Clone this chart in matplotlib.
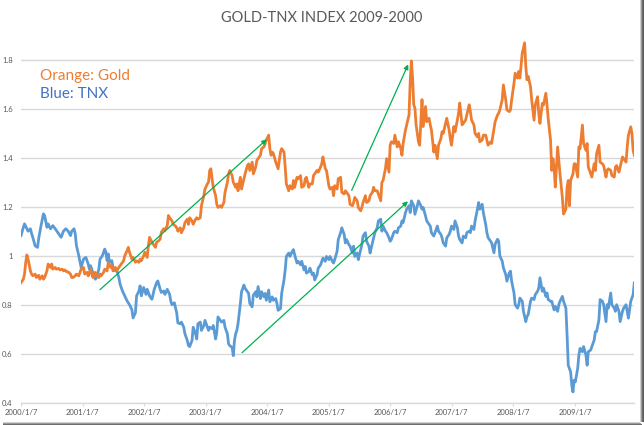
import numpy as np
import pandas as pd
import matplotlib
matplotlib.use("Agg")
import matplotlib.pyplot as plt
from matplotlib.patches import Rectangle

plt.rcParams['font.family'] = ['Lato', 'DejaVu Sans']

# ---------------- data (weeks after 2000/1/7, index value) ----------------
START = pd.Timestamp('2000-01-07')

gold_weeks = [
    0, 2, 3, 4, 5, 6, 8, 9, 10, 12, 13, 15, 16, 18, 19, 20, 22, 23, 25, 26, 27, 29, 30, 32, 33, 35, 36, 37, 39, 40,
    42, 43, 44, 46, 47, 49, 50, 51, 53, 54, 56, 57, 59, 60, 61, 63, 64, 66, 67, 68, 70, 71, 73, 74, 76, 77, 78, 80,
    81, 83, 84, 85, 87, 88, 90, 91, 92, 94, 95, 97, 98, 100, 101, 102, 104, 105, 107, 108, 109, 111, 112, 114, 115,
    117, 118, 119, 121, 122, 124, 125,
    126, 128, 129, 131, 132, 133,
    135, 136, 138, 139, 141, 142, 143, 145, 146, 148, 149, 150, 152, 153, 155, 156, 158, 159, 160, 161, 162,
    163, 165, 166, 167, 169, 170, 172, 173, 175, 176, 177, 179, 180, 182, 183, 184, 186, 187, 189, 190, 192, 193,
    194, 196, 197, 199, 200, 201, 203, 204, 206, 207, 208, 210, 211, 212, 213,
    214, 216, 217, 218, 220, 221, 223, 224, 225, 227, 228, 230, 231, 232, 234, 235, 237, 238, 240, 241, 242, 244,
    245, 247, 248, 249, 251, 252, 254, 255, 256, 258, 259, 261, 262, 264, 265,
    266, 268, 269, 271, 272, 274, 275, 276, 278, 279, 281, 282, 283, 285, 286, 288, 289, 290, 292, 293, 295, 296,
    298, 299, 300, 302, 303, 305, 306, 307, 309, 310, 312, 313, 314, 316, 317, 319, 320, 322, 323, 324, 326, 327,
    329, 330, 331, 332, 333, 334, 335, 337, 338, 339,
    340, 341, 343, 344, 346, 347, 348, 350, 351, 353, 354, 356, 357, 358, 360, 361, 363, 364, 365, 367, 368, 370,
    371, 372, 374, 375, 377, 378, 380, 381, 382, 384, 385, 387, 388, 389, 391, 392, 394,
    395, 396, 398, 399, 401, 402, 404, 405, 406, 408, 409, 411, 412, 414, 415, 416, 418, 419, 421, 422, 423, 425,
    426, 427, 428, 429, 430, 432, 433, 435, 436, 438, 439, 440, 442, 443, 445, 446, 447, 449, 450, 451, 452,
    453, 455, 456, 457, 459, 460, 462, 463, 464, 465, 466, 468,
    469, 470, 472, 473, 474, 476, 477, 479, 480, 481, 483, 484, 486, 487, 488, 490, 491, 493, 494, 496, 497, 498,
    500, 501, 503, 504, 505, 507, 508, 510, 511, 513, 514, 515, 517, 518, 519, 520,
]
gold_vals = [
    0.89, 0.904, 0.925, 0.973, 1.003, 0.986, 0.938, 0.925, 0.918, 0.925, 0.911, 0.92, 0.904, 0.918, 0.904, 0.911,
    0.938, 0.966, 0.952, 0.966, 0.945, 0.952, 0.945, 0.948, 0.942, 0.945, 0.938, 0.942, 0.934, 0.934, 0.925, 0.911,
    0.911, 0.918, 0.925, 0.918, 0.932, 0.945, 0.952, 0.925, 0.932, 0.918, 0.945, 0.925, 0.911, 0.932, 0.918, 0.911,
    0.925, 0.918, 0.932, 0.945, 0.938, 0.973, 0.952, 0.959, 0.938, 0.952, 0.938, 0.952, 0.959, 0.966, 0.979, 1.0,
    1.021, 1.034, 1.014, 0.986, 0.993, 0.973, 0.979, 0.973, 0.986, 0.979, 1.0, 1.014, 0.993, 1.041, 1.075, 1.055,
    1.048, 1.034, 1.055, 1.062, 1.068, 1.096, 1.11, 1.103, 1.123, 1.164,
    1.155, 1.142, 1.128, 1.121, 1.114, 1.10,
    1.114, 1.094, 1.114, 1.135, 1.149, 1.128, 1.155, 1.142, 1.128, 1.149, 1.155, 1.149, 1.155, 1.204, 1.245, 1.272,
    1.293, 1.30, 1.348, 1.355, 1.314,
    1.279, 1.245, 1.21, 1.197, 1.204, 1.197, 1.217, 1.259, 1.30, 1.334, 1.348, 1.327, 1.30, 1.279, 1.293, 1.265,
    1.32, 1.272, 1.314, 1.334, 1.368, 1.375, 1.348, 1.382, 1.334, 1.362, 1.389, 1.396, 1.41, 1.437, 1.444, 1.458,
    1.472, 1.492, 1.437, 1.41, 1.423,
    1.417, 1.382, 1.368, 1.355, 1.423, 1.437, 1.423, 1.362, 1.293, 1.265, 1.286, 1.272, 1.307, 1.279, 1.32, 1.314,
    1.327, 1.279, 1.286, 1.314, 1.32, 1.279, 1.293, 1.293, 1.327, 1.334, 1.348, 1.341, 1.362, 1.375, 1.403, 1.355,
    1.348, 1.286, 1.272, 1.279, 1.245,
    1.286, 1.272, 1.314, 1.32, 1.259, 1.252, 1.265, 1.259, 1.245, 1.21, 1.204, 1.217, 1.238, 1.224, 1.197, 1.183,
    1.197, 1.217, 1.245, 1.217, 1.224, 1.245, 1.259, 1.279, 1.265, 1.265, 1.252, 1.224, 1.30, 1.307, 1.355, 1.396,
    1.341, 1.451, 1.465, 1.458, 1.492, 1.444, 1.465, 1.437, 1.41, 1.458, 1.513, 1.534, 1.575, 1.712,
    1.795, 1.726, 1.616, 1.602, 1.534, 1.465, 1.451, 1.547,
    1.637, 1.527, 1.609, 1.547, 1.561, 1.534, 1.513, 1.423, 1.451, 1.396, 1.451, 1.478, 1.506, 1.499, 1.54, 1.561,
    1.513, 1.478, 1.451, 1.527, 1.506, 1.554, 1.582, 1.623, 1.534, 1.54, 1.554, 1.575, 1.616, 1.589, 1.554, 1.534,
    1.499, 1.485, 1.499, 1.465, 1.472, 1.492, 1.492,
    1.471, 1.451, 1.464, 1.458, 1.519, 1.547, 1.574, 1.581, 1.595, 1.636, 1.697, 1.636, 1.595, 1.588, 1.595, 1.636,
    1.704, 1.745, 1.725, 1.752, 1.725, 1.827, 1.848, 1.869, 1.773,
    1.718, 1.732, 1.690, 1.636, 1.553, 1.615, 1.649, 1.581, 1.540, 1.622, 1.615, 1.663, 1.615, 1.560, 1.471,
    1.348, 1.396, 1.362,
    1.280, 1.444, 1.389, 1.334, 1.238, 1.170, 1.190, 1.280, 1.307, 1.204, 1.307, 1.334,
    1.375, 1.375, 1.321, 1.444, 1.437, 1.533, 1.458, 1.430, 1.458, 1.362, 1.334, 1.321, 1.375, 1.348, 1.416, 1.451,
    1.382, 1.375, 1.368, 1.321, 1.348, 1.355, 1.348, 1.327, 1.321, 1.362, 1.368, 1.341, 1.362, 1.403, 1.396, 1.382,
    1.444, 1.492, 1.526, 1.499, 1.430, 1.410,
]

tnx_weeks = [
    0, 2, 3, 6, 8, 9, 10, 12, 14, 15, 17, 19, 20, 22, 23, 25, 27, 29, 32, 34, 36, 38, 40, 42, 43, 45, 46, 47, 49, 51,
    53, 55, 57, 58, 59, 61, 63, 64, 66, 67, 69, 71, 72, 73, 74, 75, 77, 78, 80, 81, 83, 84, 86, 88, 90, 92, 94, 95,
    97, 98, 100, 101, 102, 104, 106, 107, 109, 111, 113, 115, 116, 118, 119, 121, 122, 124, 126, 127, 128, 130, 132,
    133,
    135, 136, 138, 139, 141, 142, 143, 145, 146, 148, 149, 150, 152, 153, 155, 156, 158, 159, 160, 162,
    163, 165, 166, 167, 169, 170, 172, 173, 175, 176, 177, 179, 180, 181, 182,
    183, 184, 186, 187, 189, 190, 192, 193, 194, 196, 197, 199, 200, 201, 203, 204, 206, 207, 208, 210,
    211, 213, 214, 216, 217, 218, 220, 221, 223, 224, 225, 227, 228, 230, 231, 232, 234, 235, 237, 238,
    240, 241, 242, 244, 245, 247, 248, 249, 251, 252, 254, 255, 256, 258, 259, 261, 262, 264, 265,
    266, 268, 269, 271, 272, 274, 275, 276, 278, 279, 281, 282, 283, 285, 286, 288, 289, 290, 292, 293,
    295, 296, 298, 299, 300, 302, 303, 305, 306, 307, 309, 310, 312, 313, 314, 316, 317, 319, 320, 322,
    323, 324, 326, 327, 329, 330, 331, 333, 334, 336, 337, 339, 340, 341, 343, 344, 346, 347, 348, 350,
    351, 353, 354, 356, 357, 358, 360, 361, 363, 364, 365, 367, 368, 370, 371, 372, 374, 375, 377, 378,
    380, 381, 382, 384, 385, 387, 388, 389, 391, 392, 394,
    395, 396, 398, 399, 401, 402, 404, 405, 406, 408, 409, 411, 412, 414, 415, 416, 418, 419, 421, 422,
    423, 425, 426, 428, 429, 430, 432, 433, 435, 436, 438, 439, 440, 442, 443, 445, 446, 447, 449, 450,
    452, 453, 455, 456, 457, 459, 460, 462, 463, 464, 466, 467, 468, 469,
    470, 472, 473, 474, 476, 477, 479, 480, 481, 483, 484, 486, 487, 488, 490, 491, 493, 494, 496, 497,
    498, 500, 501, 503, 504, 505, 507, 508, 510, 511, 513, 514, 515, 517, 518, 519, 520,
]
tnx_vals = [
    1.082, 1.116, 1.13, 1.10, 1.11, 1.09, 1.075, 1.04, 1.034, 1.07, 1.123, 1.171, 1.164, 1.116, 1.13, 1.11, 1.123,
    1.11, 1.089, 1.075, 1.10, 1.11, 1.10, 1.082, 1.10, 1.11, 1.089, 1.041, 1.0, 0.952, 0.986, 0.993, 0.966, 0.945,
    0.959, 0.93, 0.904, 0.91, 0.945, 0.986, 1.0, 1.027, 1.014, 0.98, 1.007, 0.973, 0.98, 0.952, 0.938, 0.945, 0.91,
    0.884, 0.856, 0.836, 0.815, 0.80, 0.78, 0.746, 0.767, 0.836, 0.856, 0.877, 0.836, 0.87, 0.842, 0.863, 0.836,
    0.822, 0.863, 0.89, 0.897, 0.863, 0.85, 0.856, 0.842, 0.863, 0.842, 0.815, 0.80, 0.808, 0.767, 0.726,
    0.722, 0.729, 0.708, 0.681, 0.654, 0.633, 0.629, 0.654, 0.708, 0.681, 0.660, 0.722, 0.729, 0.695, 0.715, 0.736,
    0.708, 0.695, 0.708, 0.702,
    0.715, 0.660, 0.688, 0.75, 0.736, 0.729, 0.736, 0.708, 0.681, 0.640, 0.633, 0.626, 0.592, 0.654, 0.681,
    0.695, 0.722, 0.805, 0.853, 0.880, 0.867, 0.853, 0.846, 0.805, 0.791, 0.839, 0.853, 0.832, 0.874, 0.825, 0.853,
    0.832, 0.846, 0.818, 0.860, 0.812, 0.832, 0.818, 0.825, 0.805, 0.777, 0.784, 0.846, 0.901, 0.942, 0.997, 1.011,
    0.997, 1.018, 1.025, 1.004, 0.970, 0.977, 0.963, 0.977, 0.942, 0.956, 0.929, 0.935, 0.949, 0.922, 0.929, 0.901,
    0.922, 0.949, 0.963, 0.977, 0.990, 0.977, 0.997, 0.984, 0.997, 0.977, 0.970,
    0.984, 1.018, 1.066, 1.094, 1.114, 1.087, 1.052, 1.066, 1.045, 1.039, 1.011, 1.039, 0.997, 1.011, 0.984, 1.025,
    1.045, 1.080, 1.094, 1.059, 1.039, 1.011, 1.052, 1.073, 1.094, 1.114, 1.142, 1.149, 1.10, 1.121, 1.10, 1.094,
    1.073, 1.059, 1.066, 1.094, 1.10, 1.094, 1.114, 1.121, 1.142, 1.135, 1.176, 1.19, 1.204, 1.176, 1.224, 1.204,
    1.169, 1.204, 1.224, 1.204, 1.19, 1.197, 1.162, 1.142, 1.128, 1.121, 1.094, 1.080, 1.094, 1.121, 1.10, 1.087,
    1.073, 1.052, 1.039, 1.073, 1.087, 1.10, 1.121, 1.107, 1.142, 1.114, 1.080, 1.066, 1.052, 1.080, 1.073, 1.094,
    1.10, 1.094, 1.121, 1.107, 1.142, 1.19, 1.217, 1.19, 1.210, 1.176, 1.128,
    1.095, 1.074, 1.060, 1.053, 1.012, 1.047, 1.067, 1.060, 0.999, 0.978, 0.951, 0.923, 0.896, 0.930, 0.937, 0.896,
    0.848, 0.80, 0.786, 0.80, 0.827, 0.814, 0.773, 0.731, 0.752, 0.759, 0.814, 0.827, 0.821, 0.841, 0.855, 0.868,
    0.910, 0.855, 0.868, 0.834, 0.848, 0.821, 0.814, 0.814, 0.779, 0.793, 0.773, 0.80, 0.814, 0.834, 0.814, 0.786,
    0.677, 0.553, 0.526, 0.471, 0.444, 0.492,
    0.485, 0.540, 0.594, 0.622, 0.608, 0.629, 0.594, 0.553, 0.608, 0.615, 0.629, 0.656, 0.690, 0.690, 0.738, 0.821,
    0.814, 0.80, 0.731, 0.80, 0.786, 0.848, 0.80, 0.786, 0.773, 0.80, 0.773, 0.731, 0.773, 0.786, 0.80, 0.773,
    0.745, 0.814, 0.827, 0.841, 0.889,
]

tick_years = [2000, 2001, 2002, 2003, 2004, 2005, 2006, 2007, 2008, 2009]
tick_labels = [f"{y}/1/7" for y in tick_years]
y_ticks = [0.4, 0.6, 0.8, 1.0, 1.2, 1.4, 1.6, 1.8]
y_labels = ['0.4', '0.6', '0.8', '1', '1.2', '1.4', '1.6', '1.8']

# trend arrows: (start week, start value, end week, end value)
arrows = [
    (66.9, 0.861, 208.4, 1.475),
    (280.4, 1.267, 328.3, 1.781),
    (187.4, 0.604, 328.1, 1.222),
]

title = "GOLD-TNX INDEX 2009-2000"

# ---------------- drawing ----------------
def wk(w):
    return START + pd.to_timedelta(np.asarray(w, dtype=float) * 7, unit='D')

assert len(gold_weeks) == len(gold_vals), (len(gold_weeks), len(gold_vals))
assert len(tnx_weeks) == len(tnx_vals), (len(tnx_weeks), len(tnx_vals))

W, H = 644, 425
fig = plt.figure(figsize=(W / 100, H / 100), dpi=100)
fig.patch.set_facecolor('white')
ax = fig.add_axes([21 / W, 22.3 / H, (634.3 - 21) / W, 367.5 / H])

ax.plot(wk(tnx_weeks), tnx_vals, color='#5B9BD5', lw=2.0, solid_joinstyle='round', zorder=3)
ax.plot(wk(gold_weeks), gold_vals, color='#ED7D31', lw=2.0, solid_joinstyle='round', zorder=4)

for sw, sv, ew, ev in arrows:
    ax.annotate('', xy=(wk(ew), ev), xytext=(wk(sw), sv),
                arrowprops=dict(arrowstyle='-|>', color='#00B050', lw=0.9,
                                mutation_scale=7, shrinkA=0, shrinkB=0),
                zorder=5)

ax.set_ylim(0.4, 1.9)
ax.set_xlim(START, wk(520))
ax.set_yticks(y_ticks)
ax.set_yticklabels(y_labels)
ax.set_xticks([pd.Timestamp(f"{y}-01-07") for y in tick_years])
ax.set_xticklabels(tick_labels)
ax.grid(axis='y', color='#D9D9D9', lw=1.0)
ax.set_axisbelow(True)
for s in ['top', 'right', 'left']:
    ax.spines[s].set_visible(False)
ax.spines['bottom'].set_color('#D9D9D9')
ax.spines['bottom'].set_linewidth(1.0)
ax.tick_params(axis='y', length=0, pad=6, labelsize=5.5, labelcolor='#595959')
ax.tick_params(axis='x', length=2, width=0.8, color='#D9D9D9', pad=2.5,
               labelsize=5.5, labelcolor='#595959')

fig.text(321.5 / W, 1 - 17.5 / H, title, ha='center', va='center',
         fontsize=10.5, color='#595959')
fig.text(39.5 / W, 1 - 76 / H, 'Orange: Gold', ha='left', va='center',
         fontsize=11, color='#ED7D31')
fig.text(39.5 / W, 1 - 94.5 / H, 'Blue: TNX', ha='left', va='center',
         fontsize=11, color='#4472C4')

# picture frame shadow (right and bottom)
shades = ['#d0d0d0', '#9a9a9a', '#6e6e6e', '#5a5a5a', '#8a8a8a']
for i, c in enumerate(shades[:4]):
    fig.patches.append(Rectangle(((639.5 + i) / W, 3.5 / H), 1 / W, (H - 3.5) / H,
                                 transform=fig.transFigure, color=c, lw=0))
    fig.patches.append(Rectangle((3 / W, (3.5 - i - 1) / H), (640 - 3 + i) / W, 1 / H,
                                 transform=fig.transFigure, color=c, lw=0))

fig.savefig('out.png', dpi=100, facecolor='white')
